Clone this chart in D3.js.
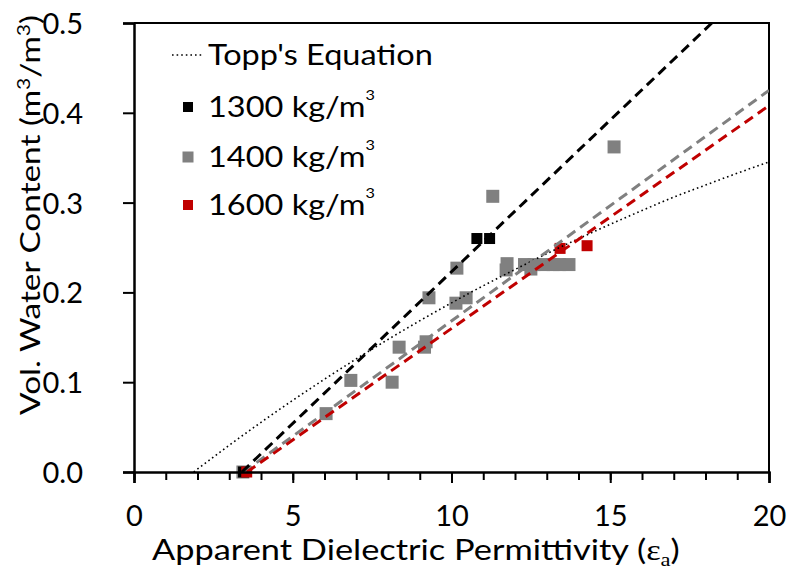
<!DOCTYPE html>
<html>
<head>
<meta charset="utf-8">
<script src="https://cdn.jsdelivr.net/npm/d3@7"></script>
<style>
  body { margin: 0; background: #fff; }
  text { font-family: Lato, "Open Sans", sans-serif; fill: #000; }
</style>
</head>
<body>
<svg id="chart" width="789" height="573"></svg>
<script>
// measured points (permittivity, vol. water content)
const pts1300 = [
  [3.45, 0.0],
  [10.8, 0.26],
  [11.2, 0.26],
];
const pts1400 = [
  [3.43, 0.0],
  [6.05, 0.065],
  [6.83, 0.102],
  [8.13, 0.1],
  [8.35, 0.139],
  [9.15, 0.139],
  [9.2, 0.145],
  [9.29, 0.194],
  [10.14, 0.188],
  [10.17, 0.227],
  [10.46, 0.194],
  [11.3, 0.307],
  [11.72, 0.225],
  [11.75, 0.232],
  [12.3, 0.231],
  [12.5, 0.226],
  [12.6, 0.231],
  [12.9, 0.231],
  [13.2, 0.231],
  [13.4, 0.231],
  [13.7, 0.231],
  [15.12, 0.362],
];
const pts1600 = [
  [3.55, 0.0],
  [13.42, 0.249],
  [14.27, 0.252],
];

// linear trendlines, endpoints
const trend1300 = [[3.4, 0.0], [18.2, 0.5]];
const trend1400 = [[3.45, 0.0], [20, 0.425]];
const trend1600 = [[3.56, 0.0], [20, 0.408]];

// Topp's equation curve
const toppEps = [1.88, 3, 4, 5, 6, 7, 8, 9, 10, 11, 12, 13, 14, 15, 16, 17, 18, 19, 20];
const toppTheta = [0, 0.0298, 0.0553, 0.0798, 0.1033, 0.1259, 0.1476, 0.1684, 0.1883,
  0.2074, 0.2255, 0.2431, 0.2598, 0.2758, 0.2912, 0.3061, 0.3195, 0.3327, 0.3454];

const xTicks = [0, 5, 10, 15, 20];
const xMinor = d3.range(0, 21, 1);
const yTicks = [0, 0.1, 0.2, 0.3, 0.4, 0.5];

const legendItems = [
  { label: "Topp's Equation", kind: "line" },
  { label: "1300 kg/m", kind: "sq", color: "#000000", size: 10 },
  { label: "1400 kg/m", kind: "sq", color: "#808080", size: 11 },
  { label: "1600 kg/m", kind: "sq", color: "#c00000", size: 10 },
];

const MARGINS = { top: 23, bottom: 101, left: 134, right: 20 };
const W = 789, H = 573;

const svg = d3.select("#chart");

const x = d3.scaleLinear().domain([0, 20]).range([MARGINS.left, W - MARGINS.right]);
const y = d3.scaleLinear().domain([0, 0.5]).range([H - MARGINS.bottom, MARGINS.top]);

// stretch a text horizontally so it spans a given width (the picture is wider than tall)
function fitWidth(text, x0, baseline, width) {
  const w = text.node().getComputedTextLength();
  const sx = width / w;
  text.attr("transform", `translate(${x0},${baseline}) scale(${sx},1)`);
  return sx;
}

// frame (top + right)
svg.append("path")
  .attr("d", `M${x(0)},${y(0.5)} H${x(20)} V${y(0)}`)
  .attr("fill", "none")
  .attr("stroke", "#000")
  .attr("stroke-width", 2);

const plot = svg.append("g");
svg.append("clipPath").attr("id", "clip")
  .append("rect")
  .attr("x", x(0)).attr("y", y(0.5))
  .attr("width", x(20) - x(0)).attr("height", y(0) - y(0.5));

// markers
const series = [
  { pts: pts1400, color: "#808080", size: 13 },
  { pts: pts1300, color: "#000000", size: 11 },
  { pts: pts1600, color: "#c00000", size: 11 },
];
series.forEach((s) => {
  plot.append("g")
    .selectAll("rect")
    .data(s.pts)
    .join("rect")
    .attr("x", (d) => x(d[0]) - s.size / 2)
    .attr("y", (d) => y(d[1]) - s.size / 2)
    .attr("width", s.size)
    .attr("height", s.size)
    .attr("fill", s.color);
});

const line = d3.line().x((d) => x(d[0])).y((d) => y(d[1]));

const lines = plot.append("g").attr("clip-path", "url(#clip)");

lines.append("path")
  .attr("d", d3.line().curve(d3.curveMonotoneX).x((d) => x(d)).y((d, i) => y(toppTheta[i]))(toppEps))
  .attr("fill", "none")
  .attr("stroke", "#000")
  .attr("stroke-width", 1.6)
  .attr("stroke-dasharray", "1.6,3");

[
  [trend1400, "#808080"],
  [trend1600, "#c00000"],
  [trend1300, "#000000"],
].forEach(([pts, color]) => {
  lines.append("path")
    .attr("d", line(pts))
    .attr("fill", "none")
    .attr("stroke", color)
    .attr("stroke-width", 3)
    .attr("stroke-dasharray", "10,6");
});

// axes
const yAxis = svg.append("g")
  .attr("transform", `translate(${x(0)},0)`)
  .call(d3.axisLeft(y).tickValues(yTicks).tickFormat(d3.format(".1f")).tickSize(11).tickPadding(40));
yAxis.select(".domain").attr("stroke-width", 2.5);
yAxis.selectAll(".tick line").attr("stroke-width", 2);
yAxis.selectAll(".tick text")
  .attr("font-size", 29)
  .attr("font-family", "Lato")
  .attr("x", -51)
  .attr("dy", "0.36em");

const xMinorAxis = svg.append("g")
  .attr("transform", `translate(0,${y(0)})`)
  .call(d3.axisBottom(x).tickValues(xMinor).tickFormat("").tickSize(8));
xMinorAxis.select(".domain").remove();
xMinorAxis.selectAll(".tick line").attr("stroke-width", 2);

const xAxis = svg.append("g")
  .attr("transform", `translate(0,${y(0)})`)
  .call(d3.axisBottom(x).tickValues(xTicks).tickSize(11).tickPadding(22));
xAxis.select(".domain").attr("stroke-width", 2.5);
xAxis.selectAll(".tick text").attr("font-size", 29).attr("font-family", "Lato");
xAxis.selectAll(".tick line").attr("stroke-width", 2);

// axis titles
const xTitle = svg.append("text").attr("font-size", 29);
xTitle.append("tspan").text("Apparent Dielectric Permittivity (");
xTitle.append("tspan").attr("font-family", "'Liberation Serif', serif").text("ε");
xTitle.append("tspan").attr("font-size", 19).attr("dy", 6).attr("font-family", "'Liberation Serif', serif").text("a");
xTitle.append("tspan").attr("dy", -6).text(")");
fitWidth(xTitle, 152, 560, 528);

const yTitle = svg.append("text")
  .attr("text-anchor", "middle")
  .attr("font-size", 27);
yTitle.append("tspan").text("Vol. Water Content (m");
yTitle.append("tspan").attr("font-size", 17).attr("dy", -10).text("3");
yTitle.append("tspan").attr("dy", 10).text("/m");
yTitle.append("tspan").attr("font-size", 17).attr("dy", -10).text("3");
yTitle.append("tspan").attr("dy", 10).text(")");
const yLen = yTitle.node().getComputedTextLength();
yTitle.attr("transform", `translate(40,215) rotate(-90) scale(${400 / yLen},1)`);

// legend
const legend = svg.append("g");
const legendBase = [65, 117, 167, 215];
let legendSx = null;
legendItems.forEach((item, i) => {
  const base = legendBase[i];
  const g = legend.append("g");
  if (item.kind === "line") {
    g.append("line")
      .attr("x1", 172).attr("x2", 204)
      .attr("y1", base - 10).attr("y2", base - 10)
      .attr("stroke", "#000").attr("stroke-width", 1.6)
      .attr("stroke-dasharray", "1.6,3");
  } else {
    g.append("rect")
      .attr("x", 188 - item.size / 2).attr("y", base - 10 - item.size / 2)
      .attr("width", item.size).attr("height", item.size)
      .attr("fill", item.color);
  }
  const t = g.append("text").attr("font-size", 28);
  t.append("tspan").text(item.label);
  if (item.kind === "sq") {
    t.append("tspan").attr("font-size", 14).attr("dy", -17).text("3");
  }
  if (legendSx === null) {
    legendSx = fitWidth(t, 208, base, 225);
  } else {
    t.attr("transform", `translate(208,${base}) scale(${legendSx},1)`);
  }
});
</script>
</body>
</html>
